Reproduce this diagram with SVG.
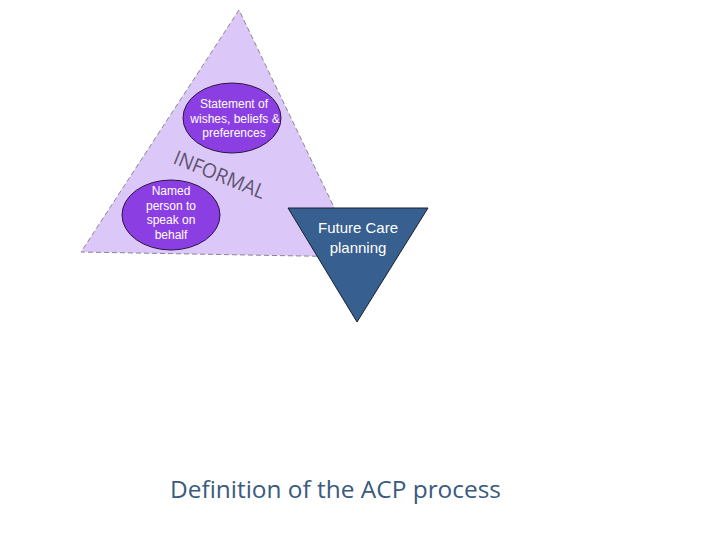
<svg xmlns="http://www.w3.org/2000/svg" width="720" height="540" viewBox="0 0 720 540">
<style>
.lbl{font-family:"Liberation Sans",Arial,sans-serif;font-size:12px;fill:#ffffff;text-anchor:middle}
.ell{fill:#8B3FE3;stroke:#2a1440;stroke-width:1}
</style>
<rect width="720" height="540" fill="#ffffff"/>
<g id="informal-triangle">
<polygon points="239,10 81,252 358,257" fill="#DCC8F8" stroke="#8a8590" stroke-width="1" stroke-dasharray="5,3"/>
<text transform="translate(172,163) rotate(22)" font-family="Open Sans,Liberation Sans,sans-serif" font-size="20" fill="#5E5470" textLength="97" lengthAdjust="spacingAndGlyphs">INFORMAL</text>
</g>
<g id="statement">
<ellipse class="ell" cx="232" cy="118" rx="49" ry="35"/>
<text class="lbl" x="234" y="108">Statement of</text>
<text class="lbl" x="235" y="123">wishes, beliefs &amp;</text>
<text class="lbl" x="234" y="137">preferences</text>
</g>
<g id="named-person">
<ellipse class="ell" cx="171" cy="215" rx="49" ry="35"/>
<text class="lbl" x="171" y="195">Named</text>
<text class="lbl" x="171" y="210">person to</text>
<text class="lbl" x="171" y="224">speak on</text>
<text class="lbl" x="171" y="239">behalf</text>
</g>
<g id="future-care">
<polygon points="288,208 428,208 357,322" fill="#375F8F" stroke="#1a2030" stroke-width="1"/>
<text font-family="Liberation Sans,Arial,sans-serif" font-size="15" fill="#ffffff" text-anchor="middle" x="358" y="233">Future Care</text>
<text font-family="Liberation Sans,Arial,sans-serif" font-size="15" fill="#ffffff" text-anchor="middle" x="358" y="253">planning</text>
</g>
<g id="connectors"></g>
<text x="170" y="498" font-family="Open Sans,Liberation Sans,sans-serif" font-size="23" fill="#3A5A7E" textLength="331" lengthAdjust="spacingAndGlyphs">Definition of the ACP process</text>
</svg>
